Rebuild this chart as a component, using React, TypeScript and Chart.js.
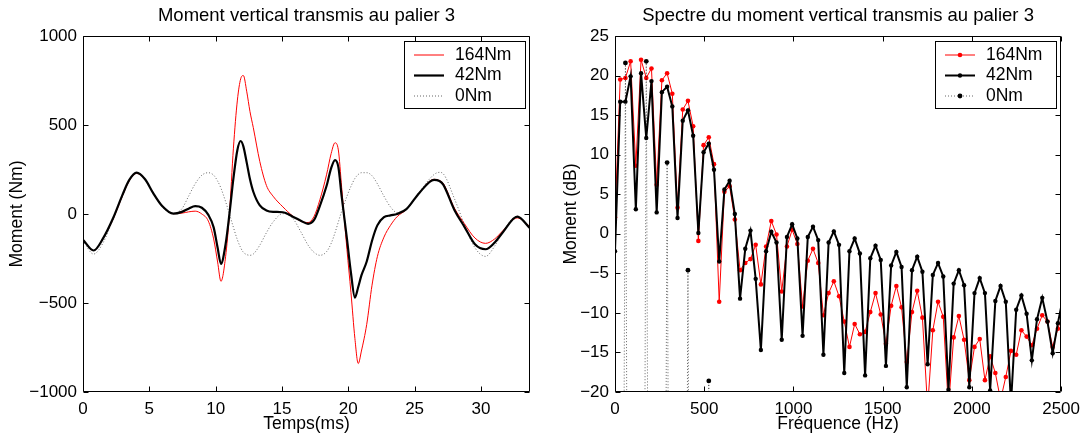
import React, { useEffect, useRef } from "react";
import { Chart, registerables } from "chart.js";
Chart.register(...registerables);

const FONT = "'Liberation Sans', Arial, Helvetica, sans-serif";

// ---------- Left: time signal ----------
const TIME_MS = [0, 0.8, 1.49, 2.29, 2.99, 3.48, 4.04, 4.68, 5.27, 5.97, 6.81, 7.46, 7.96, 8.46, 8.96, 9.45, 9.85, 10.15, 10.4, 10.75, 11.04, 11.34, 11.64, 11.89, 12.09, 12.34, 12.59, 12.84, 13.33, 13.83, 14.33, 15.07, 15.82, 16.42, 16.97, 17.41, 17.86, 18.36, 18.71, 19.0, 19.25, 19.5, 19.9, 20.2, 20.5, 20.75, 20.99, 21.39, 21.79, 22.19, 22.69, 23.18, 23.68, 24.38, 25.37, 26.47, 26.87, 27.16, 28.01, 28.76, 29.55, 30.35, 31.04, 31.64, 32.74, 33.7];
const MOMENT_164 = [-145, -205, -140, -25, 105, 185, 228, 195, 120, 45, 2, 5, 12, 16, 0, -40, -140, -270, -378, -240, 0, 370, 640, 760, 778, 690, 575, 485, 295, 160, 100, 40, -12, -40, -48, -15, 80, 220, 340, 400, 360, 150, -200, -440, -700, -840, -770, -620, -400, -240, -130, -64, -15, 25, 120, 195, 188, 172, 32, -55, -135, -165, -140, -95, -22, -70];
const MOMENT_42 = [-145, -205, -140, -20, 110, 190, 232, 195, 120, 45, 2, 12, 30, 44, 35, -5, -75, -190, -280, -170, 0, 200, 360, 410, 380, 290, 195, 125, 48, 20, 12, 10, -15, -38, -55, -35, 46, 157, 258, 303, 265, 100, -140, -330, -470, -410, -345, -267, -150, -64, -18, -8, 0, 27, 120, 192, 185, 165, 21, -72, -170, -198, -160, -104, -15, -80];
const MOMENT_0 = [-150, -225, -165, -25, 105, 190, 232, 195, 120, 40, 3, 30, 100, 170, 218, 232, 218, 185, 145, 70, 0, -75, -145, -190, -215, -228, -232, -225, -175, -105, -45, 2, -25, -100, -175, -215, -232, -212, -165, -105, -45, 15, 100, 155, 200, 222, 232, 232, 215, 170, 100, 40, 8, 25, 125, 222, 234, 226, 85, -60, -190, -238, -180, -100, -12, -85];
const TIME_TICKS = [0, 5, 10, 15, 20, 25, 30];
const MOMENT_TICKS = [-1000, -500, 0, 500, 1000];

// ---------- Right: spectrum ----------
const FREQ_STEP_HZ = 29.2;
const SPEC_164 = [2.1, 19.5, 19.7, 21.8, 8.6, 22.0, 19.7, 20.9, 6.2, 19.4, 20.3, 17.7, 3.3, 15.7, 16.8, 13.6, -0.9, 11.2, 12.2, 8.8, -8.6, 5.3, 6.0, 1.8, -4.6, -3.7, -3.2, -1.4, -6.4, -1.6, 1.6, -0.1, -7.3, -1.6, 0.5, -1.3, -9.2, -3.4, -1.9, -3.7, -10.3, -7.5, -6.0, -7.9, -11.1, -14.3, -11.4, -12.7, -12.4, -9.9, -7.5, -10.2, -13.9, -9.1, -6.6, -9.3, -16.2, -9.9, -7.2, -10.6, -22, -12.2, -8.6, -10.5, -22, -13.1, -10.4, -13.4, -18.5, -14.3, -13.3, -18.5, -15.5, -17.6, -21, -18.1, -14.8, -15.3, -12.2, -13.0, -14.1, -12.0, -10.3, -11.1, -14.3, -12.0, -10.0];
const SPEC_42 = [-2.2, 16.7, 16.7, 19.9, 3.1, 20.3, 12.1, 19.3, 2.7, 17.9, 18.6, 16.1, 2.0, 14.3, 15.6, 12.4, 0.1, 10.3, 11.4, 8.1, -3.5, 5.6, 6.7, 2.5, -8.2, -1.9, 0.4, -5.7, -14.7, -2.2, 0.25, -1.1, -13.4, -0.4, 1.2, -0.6, -12.9, -0.4, 0.9, -0.8, -15.3, -1.1, 0.3, -1.4, -17.6, -2.2, -0.6, -2.5, -17.9, -3.1, -1.5, -3.3, -16.7, -4.0, -2.3, -4.2, -19.4, -4.6, -2.9, -4.8, -16.5, -5.2, -3.7, -5.4, -19.7, -6.3, -4.6, -6.5, -19.4, -7.5, -5.6, -7.5, -19.8, -8.5, -6.6, -8.6, -21.5, -9.6, -7.8, -10.1, -16.0, -10.8, -8.1, -11.1, -15.1, -11.3, -8.0];
const SPEC_0 = [-150, -150, 21.6, -150, -150, -150, 21.8, -150, -150, -150, 9.0, -150, -150, -150, -4.6, -150, -150, -150, -18.6, -150, -150, -150, -32, -150, -150];
const FREQ_TICKS = [0, 500, 1000, 1500, 2000, 2500];
const DB_TICKS = [-20, -15, -10, -5, 0, 5, 10, 15, 20, 25];

const fmt = (v: number) => (v < 0 ? "\u2212" + Math.abs(v) : String(v));

const framePlugin = {
  id: "matlabFrame",
  afterDatasetsDraw(chart: any) {
    const { ctx, chartArea: a, scales } = chart;
    const xs = scales.x, ys = scales.y;
    const L = Math.round(a.left) + 0.5, R = Math.round(a.right) - 0.5;
    const T = Math.round(a.top) + 0.5, B = Math.round(a.bottom) - 0.5;
    const len = 5;
    ctx.save();
    ctx.strokeStyle = "#000";
    ctx.lineWidth = 1;
    ctx.setLineDash([]);
    ctx.beginPath();
    ctx.rect(L, T, R - L, B - T);
    xs.ticks.forEach((t: any) => {
      const x = Math.round(xs.getPixelForValue(t.value)) + 0.5;
      ctx.moveTo(x, B); ctx.lineTo(x, B - len);
      ctx.moveTo(x, T); ctx.lineTo(x, T + len);
    });
    ys.ticks.forEach((t: any) => {
      const y = Math.round(ys.getPixelForValue(t.value)) + 0.5;
      ctx.moveTo(L, y); ctx.lineTo(L + len, y);
      ctx.moveTo(R, y); ctx.lineTo(R - len, y);
    });
    ctx.stroke();
    ctx.restore();
  },
};

const legendPlugin = {
  id: "boxLegend",
  afterDraw(chart: any, _args: any, opts: any) {
    const { ctx, chartArea: a } = chart;
    const w = 121, h = 67;
    const x0 = Math.round(a.right) - 5 - w;
    const y0 = Math.round(a.top) + 5;
    ctx.save();
    ctx.fillStyle = "#fff";
    ctx.fillRect(x0, y0, w, h);
    ctx.strokeStyle = "#000";
    ctx.lineWidth = 1;
    ctx.setLineDash([]);
    ctx.strokeRect(x0 + 0.5, y0 + 0.5, w, h);
    chart.data.datasets.forEach((ds: any, i: number) => {
      const cy = y0 + 14 + i * 20.5;
      ctx.save();
      ctx.strokeStyle = ds.borderColor;
      ctx.lineWidth = ds.borderWidth;
      ctx.setLineDash(ds.borderDash || []);
      ctx.beginPath();
      ctx.moveTo(x0 + 10, cy);
      ctx.lineTo(x0 + 40, cy);
      ctx.stroke();
      ctx.restore();
      if (opts && opts.markers && ds.pointRadius > 0) {
        ctx.fillStyle = ds.pointBackgroundColor;
        ctx.beginPath();
        ctx.arc(x0 + 25, cy, ds.pointRadius, 0, Math.PI * 2);
        ctx.fill();
      }
      ctx.fillStyle = "#000";
      ctx.font = `17.5px ${FONT}`;
      ctx.textBaseline = "middle";
      ctx.textAlign = "left";
      ctx.fillText(ds.label, x0 + 51, cy);
    });
    ctx.restore();
  },
};

function makeScales(opts: {
  xMin: number; xMax: number; xTicks: number[]; yMin: number; yMax: number; yTicks: number[];
  yWidth: number; xTitle: string; yTitle: string; yTitlePad: number;
}) {
  return {
    x: {
      type: "linear",
      min: opts.xMin,
      max: opts.xMax,
      grid: { display: false, drawTicks: false },
      border: { display: false },
      afterBuildTicks: (s: any) => { s.ticks = opts.xTicks.map((v) => ({ value: v })); },
      afterFit: (s: any) => { s.height = 45; },
      ticks: { autoSkip: false, maxRotation: 0, padding: 7, color: "#000", font: { size: 17, family: FONT }, callback: (v: any) => fmt(Number(v)) },
      title: { display: true, text: opts.xTitle, color: "#000", font: { size: 17.5, family: FONT }, padding: { top: 0, bottom: 2.5 } },
    },
    y: {
      type: "linear",
      min: opts.yMin,
      max: opts.yMax,
      grid: { display: false, drawTicks: false },
      border: { display: false },
      afterBuildTicks: (s: any) => { s.ticks = opts.yTicks.map((v) => ({ value: v })); },
      afterFit: (s: any) => { s.width = opts.yWidth; },
      ticks: { autoSkip: false, padding: 6, color: "#000", font: { size: 17, family: FONT }, callback: (v: any) => fmt(Number(v)) },
      title: { display: true, text: opts.yTitle, color: "#000", font: { size: 17.5, family: FONT }, padding: { top: opts.yTitlePad, bottom: 0 } },
    },
  };
}

function commonPlugins(title: string, markers: boolean) {
  return {
    legend: { display: false },
    tooltip: { enabled: false },
    title: {
      display: true, text: title, color: "#000", fullSize: false,
      font: { size: 18.5, family: FONT, weight: "normal" },
      padding: { top: 5, bottom: 8.8 },
    },
    boxLegend: { markers },
  };
}

function timeConfig(): any {
  const pts = (arr: number[]) => TIME_MS.map((t, i) => ({ x: t, y: arr[i] }));
  return {
    type: "line",
    data: {
      datasets: [
        { label: "164Nm", data: pts(MOMENT_164), borderColor: "#ff0000", borderWidth: 1, pointRadius: 0, cubicInterpolationMode: "monotone", order: 3, clip: 0 },
        { label: "42Nm", data: pts(MOMENT_42), borderColor: "#000000", borderWidth: 2.2, pointRadius: 0, cubicInterpolationMode: "monotone", order: 2, clip: 0 },
        { label: "0Nm", data: pts(MOMENT_0), borderColor: "rgba(0,0,0,0.6)", borderWidth: 1, borderDash: [1, 2], pointRadius: 0, cubicInterpolationMode: "monotone", order: 1, clip: 0 },
      ],
    },
    options: {
      responsive: false,
      animation: false,
      events: [],
      layout: { padding: { left: 0, right: 15, top: 0, bottom: 0 } },
      scales: makeScales({ xMin: 0, xMax: 33.7, xTicks: TIME_TICKS, yMin: -1000, yMax: 1000, yTicks: MOMENT_TICKS, yWidth: 83, xTitle: "Temps(ms)", yTitle: "Moment (Nm)", yTitlePad: 7 }),
      plugins: commonPlugins("Moment vertical transmis au palier 3", false),
    },
    plugins: [framePlugin, legendPlugin],
  };
}

function specConfig(): any {
  const pts = (arr: number[]) => arr.map((v, i) => ({ x: i * FREQ_STEP_HZ, y: v }));
  return {
    type: "line",
    data: {
      datasets: [
        { label: "164Nm", data: pts(SPEC_164), borderColor: "#ff0000", borderWidth: 1, pointRadius: 2.3, pointBackgroundColor: "#ff0000", pointBorderWidth: 0, tension: 0, order: 3, clip: 0 },
        { label: "42Nm", data: pts(SPEC_42), borderColor: "#000000", borderWidth: 2, pointRadius: 2.2, pointBackgroundColor: "#000000", pointBorderWidth: 0, tension: 0, order: 2, clip: 0 },
        { label: "0Nm", data: pts(SPEC_0), borderColor: "rgba(0,0,0,0.6)", borderWidth: 1, borderDash: [1, 2], pointRadius: 2.4, pointBackgroundColor: "#000000", pointBorderWidth: 0, tension: 0, order: 1, clip: 0 },
      ],
    },
    options: {
      responsive: false,
      animation: false,
      events: [],
      layout: { padding: { left: 0, right: 23, top: 0, bottom: 0 } },
      scales: makeScales({ xMin: 0, xMax: 2500, xTicks: FREQ_TICKS, yMin: -20, yMax: 25, yTicks: DB_TICKS, yWidth: 70, xTitle: "Fréquence (Hz)", yTitle: "Moment (dB)", yTitlePad: 15.5 }),
      plugins: commonPlugins("Spectre du moment vertical transmis au palier 3", true),
    },
    plugins: [framePlugin, legendPlugin],
  };
}

function ChartCanvas({ make, left, width }: { make: () => any; left: number; width: number }) {
  const ref = useRef<HTMLCanvasElement>(null);
  useEffect(() => {
    const chart = new Chart(ref.current as HTMLCanvasElement, make());
    return () => chart.destroy();
  }, []);
  return (
    <canvas
      ref={ref}
      width={width}
      height={437}
      style={{ position: "absolute", left, top: 0, width, height: 437, display: "block" }}
    />
  );
}

export default function App() {
  return (
    <div style={{ position: "fixed", left: 0, top: 0, width: 1087, height: 437, background: "#fff", overflow: "hidden" }}>
      <ChartCanvas make={timeConfig} left={0} width={545} />
      <ChartCanvas make={specConfig} left={545} width={542} />
    </div>
  );
}
